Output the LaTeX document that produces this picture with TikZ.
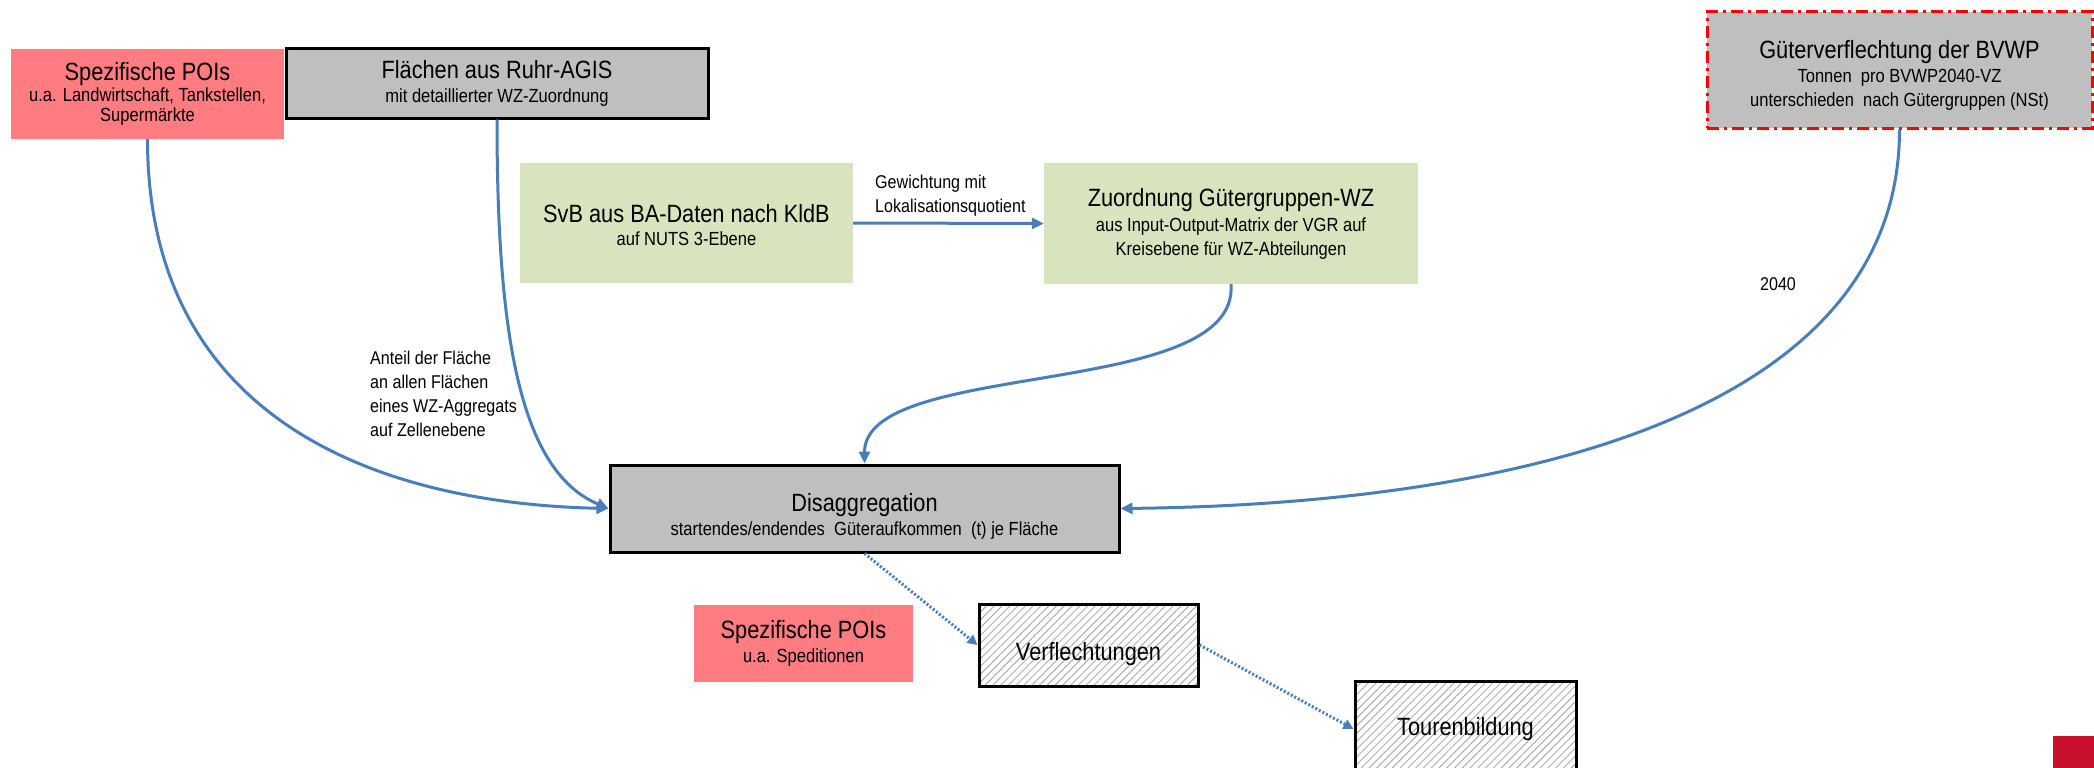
\documentclass[tikz,border=0pt]{standalone}
\usepackage{fontspec}
\setmainfont{Liberation Sans}[FakeStretch=0.87]
\usetikzlibrary{arrows.meta,patterns.meta}
\definecolor{poired}{HTML}{FF7C80}
\definecolor{boxgray}{HTML}{BFBFBF}
\definecolor{boxgreen}{HTML}{D7E4BD}
\definecolor{linkblue}{HTML}{4A7EBB}
\definecolor{logored}{HTML}{C8102E}
\definecolor{hatchgray}{HTML}{A0A0A0}
\newcommand{\boxtitle}[1]{{\fontsize{25}{28}\selectfont #1}}
\tikzset{
  boxbase/.style={inner sep=0pt, align=center, text=black, font=\fontsize{19}{23.5}\selectfont},
  poibox/.style={boxbase, fill=poired},
  graybox/.style={boxbase, fill=boxgray, draw=black, line width=3pt},
  greenbox/.style={boxbase, fill=boxgreen},
  bvwpbox/.style={boxbase, fill=boxgray, draw=red, line width=3pt, dash pattern=on 12pt off 5pt on 3pt off 5pt},
  hatchbox/.style={boxbase, preaction={fill=white}, pattern={Lines[angle=45,distance=5.5pt,line width=0.8pt]}, pattern color=hatchgray, draw=black, line width=3pt},
  link/.style={draw=linkblue, line width=3pt, -{Triangle[length=12pt,width=11pt]}},
  dotlink/.style={draw=linkblue, line width=3pt, dash pattern=on 2pt off 2pt, -{Triangle[length=10pt,width=10pt]}},
  lbl/.style={inner sep=0pt, align=left, font=\fontsize{18.5}{24}\selectfont},
}
\begin{document}
\begin{tikzpicture}[x=1pt,y=-1pt]
\useasboundingbox (0,0) rectangle (2094,768);
\clip (0,0) rectangle (2094,768);
\fill[white] (0,0) rectangle (2094,768);

\node[poibox, font=\fontsize{19}{20.5}\selectfont, minimum width=273pt, minimum height=90pt] (poi1) at (147.5,94)
  {\boxtitle{Spezifische POIs}\\u.a. Landwirtschaft, Tankstellen,\\Supermärkte};
\node[graybox, minimum width=422pt, minimum height=69pt] (flaechen) at (497,83.5)
  {\boxtitle{Flächen aus Ruhr-AGIS}\\mit detaillierter WZ-Zuordnung};
\node[greenbox, minimum width=333pt, minimum height=120pt] (svb) at (686.5,223)
  {\rule{0pt}{22pt}\boxtitle{SvB aus BA-Daten nach KldB}\\auf NUTS 3-Ebene};
\node[greenbox, minimum width=374pt, minimum height=121pt] (zuord) at (1231,223.5)
  {\boxtitle{Zuordnung Gütergruppen-WZ}\\[2pt]aus Input-Output-Matrix der VGR auf\\Kreisebene für WZ-Abteilungen};
\node[bvwpbox, minimum width=385pt, minimum height=116pt] (bvwp) at (1899.5,70)
  {\rule{0pt}{28pt}\boxtitle{Güterverflechtung der BVWP}\\[1pt]Tonnen\ \ pro BVWP2040-VZ\\unterschieden\ \ nach Gütergruppen (NSt)};
\node[graybox, minimum width=509pt, minimum height=87pt] (disagg) at (864.5,508.5)
  {\rule{0pt}{34pt}\boxtitle{Disaggregation}\\[1pt]startendes/endendes\ \ Güteraufkommen\ \ (t) je Fläche};
\node[poibox, minimum width=219pt, minimum height=77pt] (poi2) at (803.5,643.5)
  {\boxtitle{Spezifische POIs}\\u.a. Speditionen};
\node[hatchbox, minimum width=219pt, minimum height=82pt] (verfl) at (1088.5,645)
  {\rule{0pt}{36pt}\boxtitle{Verflechtungen}};
\node[hatchbox, minimum width=221pt, minimum height=96pt] (touren) at (1465.5,729)
  {\boxtitle{Tourenbildung}};

\fill[logored] (2053,736) rectangle (2094,768);

\node[lbl, anchor=west] (lblgew) at (875,196) {Gewichtung mit\\Lokalisationsquotient};
\node[lbl, anchor=west] (lblant) at (370,394) {Anteil der Fläche\\an allen Flächen\\eines WZ-Aggregats\\auf Zellenebene};
\node[lbl] (lbl2040) at (1778,284) {2040};

\draw[link] (poi1.south) .. controls +(0,281) and +(-230,-5) .. (disagg.west);
\draw[link] (flaechen.south) .. controls +(0,212) and +(-90,-38) .. (disagg.west);
\draw[link] (svb.east) -- (zuord.west);
\draw[link] (zuord.south) .. controls +(9,116) and +(0,-105) .. (disagg.north);
\draw[link] (bvwp.south) .. controls +(0,292) and +(376,-4) .. (disagg.east);
\draw[dotlink] (disagg.south) -- (verfl.west);
\draw[dotlink] (verfl.east) -- (touren.west);
\end{tikzpicture}
\end{document}
